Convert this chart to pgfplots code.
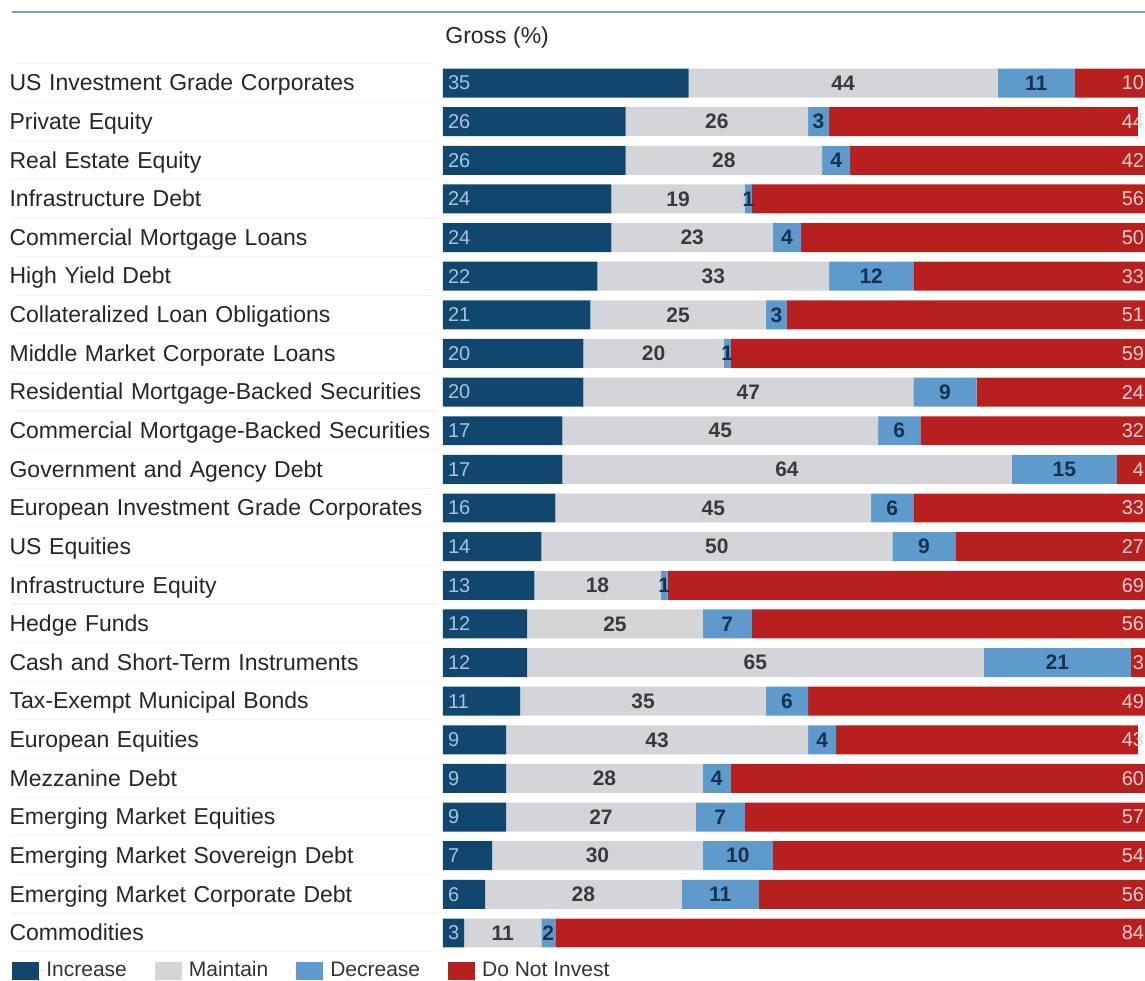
\documentclass[border=0pt]{standalone}
\usepackage{pgfplots}
\usepackage{pgfplotstable}
\pgfplotsset{compat=1.18}
\usepackage{fontspec}
\setmainfont{Liberation Sans}
\definecolor{incC}{HTML}{11466E}
\definecolor{maiC}{HTML}{D3D5D8}
\definecolor{decC}{HTML}{5E9BCC}
\definecolor{dniC}{HTML}{B8201F}
\definecolor{lineC}{HTML}{7F9BB5}
\definecolor{incT}{HTML}{A9C3DC}
\definecolor{maiT}{HTML}{3A3A3A}
\definecolor{decT}{HTML}{17324F}
\definecolor{dniT}{HTML}{F4CFCF}

\pgfplotstableread{
inc mai dec dni
35 44 11 10
26 26 3 44
26 28 4 42
24 19 1 56
24 23 4 50
22 33 12 33
21 25 3 51
20 20 1 59
20 47 9 24
17 45 6 32
17 64 15 4
16 45 6 33
14 50 9 27
13 18 1 69
12 25 7 56
12 65 21 3
11 35 6 49
9 43 4 43
9 28 4 60
9 27 7 57
7 30 10 54
6 28 11 56
3 11 2 84
}\datatable

\begin{document}
\begin{tikzpicture}
\useasboundingbox (0,0) rectangle (572.5pt,490pt);
% top rule
\draw[lineC, line width=1pt] (6pt,484pt) -- (572.5pt,484pt);
% row separators
\foreach \k in {0,...,23} {
  \draw[black!4, line width=0.6pt] (6pt,{490pt-(63.7pt+38.6pt*\k)/2}) -- (219pt,{490pt-(63.7pt+38.6pt*\k)/2});
}
\node[anchor=west, font=\fontsize{11.5}{13}\selectfont, text=black!85, inner sep=0pt] at (222.5pt,471pt) {Gross (\%)};

\begin{axis}[
  at={(221.5pt,13.85pt)}, anchor=south west,
  scale only axis, width=351pt, height=444.3pt,
  xbar stacked, bar width=0.75,
  xmin=0, xmax=100, ymin=-0.5, ymax=22.5, y dir=reverse,
  axis line style={draw=none}, major tick length=0pt,
  xtick=\empty, ytick={0,...,22},
  yticklabels={US Investment Grade Corporates,Private Equity,Real Estate Equity,Infrastructure Debt,Commercial Mortgage Loans,High Yield Debt,Collateralized Loan Obligations,Middle Market Corporate Loans,Residential Mortgage-Backed Securities,Commercial Mortgage-Backed Securities,Government and Agency Debt,European Investment Grade Corporates,US Equities,Infrastructure Equity,Hedge Funds,Cash and Short-Term Instruments,Tax-Exempt Municipal Bonds,European Equities,Mezzanine Debt,Emerging Market Equities,Emerging Market Sovereign Debt,Emerging Market Corporate Debt,Commodities},
  yticklabel style={text width=216.5pt, align=left, inner sep=0pt, anchor=east, text height=8.4pt, text depth=2.6pt, yshift=-1pt, font=\fontsize{11.5}{13}\selectfont, text=black!85},
  legend columns=4,
  legend style={at={(axis description cs:-0.614,-0.0205)}, anchor=west, draw=none, fill=none, inner sep=0pt,
    font=\fontsize{10.5}{12}\selectfont, text=black!80,
    /tikz/every even column/.append style={column sep=13pt},
    nodes={inner sep=1pt}},
  legend image code/.code={\fill[#1] (0pt,-4.5pt) rectangle (13.5pt,4.5pt); \path (0pt,0pt) -- (16pt,0pt);},
]
\addplot[fill=incC, draw=none] table[x=inc, y expr=\coordindex] {\datatable};
\addlegendentry{Increase}
\addplot[fill=maiC, draw=none] table[x=mai, y expr=\coordindex] {\datatable};
\addlegendentry{Maintain}
\addplot[fill=decC, draw=none] table[x=dec, y expr=\coordindex] {\datatable};
\addlegendentry{Decrease}
\addplot[fill=dniC, draw=none] table[x=dni, y expr=\coordindex] {\datatable};
\addlegendentry{Do Not Invest}
\end{axis}

\begin{axis}[
  at={(221.5pt,13.85pt)}, anchor=south west,
  scale only axis, width=351pt, height=444.3pt,
  xmin=0, xmax=100, ymin=-0.5, ymax=22.5, y dir=reverse,
  hide axis, clip=false,
  /pgf/number format/assume math mode=true,
  nodes near coords, point meta=explicit,
  every node near coord/.append style={font=\fontsize{10}{11}\selectfont, inner sep=0.8pt},
]
\addplot[only marks, mark=none, nodes near coords style={anchor=west, text=incT, xshift=1.5pt}]
  table[x expr=0, y expr=\coordindex, meta=inc] {\datatable};
\addplot[only marks, mark=none, nodes near coords style={anchor=center, text=maiT, font=\fontsize{10.5}{12}\selectfont\bfseries}]
  table[x expr=\thisrow{inc}+\thisrow{mai}/2, y expr=\coordindex, meta=mai] {\datatable};
\addplot[only marks, mark=none, nodes near coords style={anchor=center, text=decT, font=\fontsize{10.5}{12}\selectfont\bfseries}]
  table[x expr=\thisrow{inc}+\thisrow{mai}+\thisrow{dec}/2, y expr=\coordindex, meta=dec] {\datatable};
\addplot[only marks, mark=none, nodes near coords style={anchor=east, text=dniT, xshift=0.5pt}]
  table[x expr=100, y expr=\coordindex, meta=dni] {\datatable};
\end{axis}
\end{tikzpicture}
\end{document}
